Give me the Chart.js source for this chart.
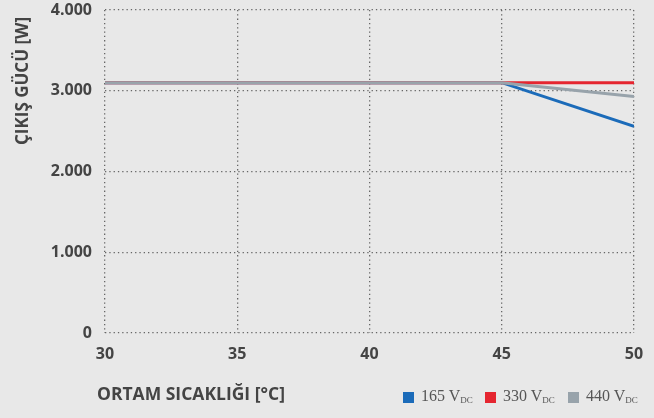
<!DOCTYPE html>
<html>
<head>
<meta charset="utf-8">
<script src="https://cdn.jsdelivr.net/npm/chart.js@4"></script>
<style>
  html, body { margin: 0; padding: 0; background: #e8e8e8; }
  #wrap { position: relative; width: 654px; height: 418px; }
  .lg {
    position: absolute; top: 386px;
    font-family: "Liberation Serif", serif; font-size: 16px; color: #555;
    white-space: nowrap; line-height: 20px;
  }
  .lg i { position: absolute; left: 0; top: 6px; width: 11px; height: 11px; }
  .lg span { margin-left: 18px; }
  .lg sub { font-size: 9px; vertical-align: -2px; }
</style>
</head>
<body>
<div id="wrap">
  <canvas id="chart" width="654" height="418"></canvas>
</div>
<script>
// ambient temperature [°C]
const temps = [30, 35, 40, 45, 50];
const series165 = [3100, 3100, 3100, 3100, 2560];
const series330 = [3100, 3100, 3100, 3100, 3100];
const series440 = [3100, 3100, 3100, 3100, 2930];
const yTicks = [0, 1000, 2000, 3000, 4000];

const seriesNames = ["165", "330", "440"];
const seriesValues = [series165, series330, series440];
const seriesColors = ["#1b6bb9", "#e52630", "#98a3ab"];
const legendLeft = [403, 485, 568];

function toPoints(vals) {
  return temps.map((t, i) => ({ x: t, y: vals[i] }));
}

const textColor = "#444";
const gridColor = "#666";
const tickFont = { family: "Open Sans", size: 16, weight: "bold" };

// axis titles drawn by hand so they sit where the original has them
const axisTitles = {
  id: "axisTitles",
  afterDraw(chart) {
    const c = chart.ctx;
    c.save();
    c.fillStyle = textColor;
    c.font = "bold 17.5px 'Open Sans'";
    c.textBaseline = "middle";
    c.textAlign = "left";
    c.fillText("ORTAM SICAKLIĞI [°C]", 97, 395);

    c.font = "bold 17px 'Open Sans'";
    c.translate(23, 145);
    c.rotate(-Math.PI / 2);
    c.fillText("ÇIKIŞ GÜCÜ [W]", 0, 0);
    c.restore();
  },
};

const ctx = document.getElementById("chart").getContext("2d");
new Chart(ctx, {
  type: "line",
  data: {
    // 440 under 330 under 165, like the original
    datasets: [2, 1, 0].map((idx) => ({
      label: seriesNames[idx],
      data: toPoints(seriesValues[idx]),
      borderColor: seriesColors[idx],
      borderWidth: 3,
      pointRadius: 0,
      fill: false,
      tension: 0,
    })),
  },
  options: {
    responsive: false,
    animation: false,
    layout: { padding: { top: 10, right: 20, left: 0, bottom: 0 } },
    plugins: {
      legend: { display: false },
      tooltip: { enabled: false },
    },
    scales: {
      x: {
        type: "linear",
        min: 30,
        max: 50,
        afterBuildTicks: (axis) => { axis.ticks = temps.map((v) => ({ value: v })); },
        grid: { color: gridColor, lineWidth: 1.3, drawTicks: false },
        border: { display: false, dash: [1.3, 3] },
        ticks: { color: textColor, font: tickFont, padding: 12 },
        afterFit: (axis) => {
          axis.height = 85;
          axis.paddingLeft = 0;
          axis.paddingRight = 0;
        },
      },
      y: {
        min: 0,
        max: 4000,
        afterBuildTicks: (axis) => { axis.ticks = yTicks.map((v) => ({ value: v })); },
        grid: { color: gridColor, lineWidth: 1.3, drawTicks: false },
        border: { display: false, dash: [1.3, 3] },
        ticks: {
          color: textColor,
          font: tickFont,
          padding: 13,
          callback: (v) => String(v).replace(/\B(?=(\d{3})+(?!\d))/g, "."),
        },
        afterFit: (axis) => {
          axis.width = 105;
          axis.paddingTop = 0;
          axis.paddingBottom = 0;
        },
      },
    },
  },
  plugins: [axisTitles],
});

const wrap = document.getElementById("wrap");
seriesNames.forEach((n, i) => {
  const d = document.createElement("div");
  d.className = "lg";
  d.style.left = legendLeft[i] + "px";
  d.innerHTML = `<i style="background:${seriesColors[i]}"></i><span>${n} V<sub>DC</sub></span>`;
  wrap.appendChild(d);
});
</script>
</body>
</html>
